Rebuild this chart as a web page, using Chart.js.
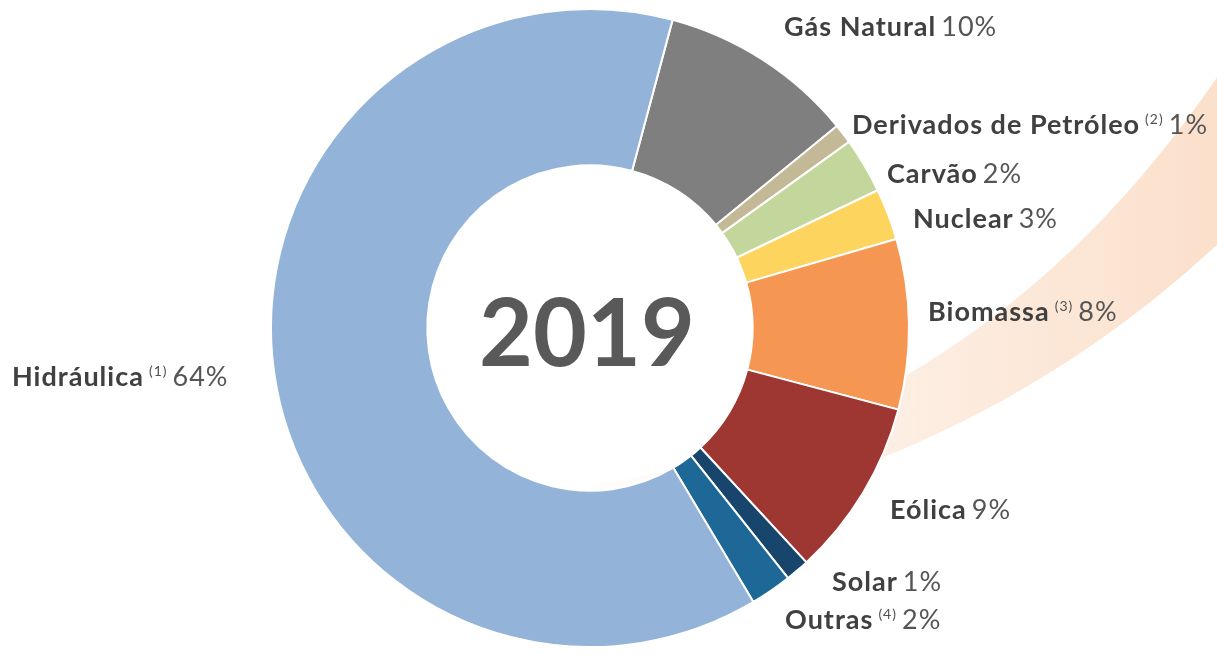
<!DOCTYPE html>
<html lang="pt">
<head>
<meta charset="utf-8">
<title>Matriz elétrica 2019</title>
<script src="https://cdn.jsdelivr.net/npm/chart.js@4/dist/chart.umd.min.js"></script>
<style>
  html, body { margin: 0; padding: 0; background: #fff; }
  #wrap { width: 1217px; height: 655px; position: relative; }
</style>
</head>
<body>
<div id="wrap"><canvas id="matrixChart"></canvas></div>
<script>
// Data (shares in %, clockwise from the top)
const categories  = ['Gás Natural', 'Derivados de Petróleo', 'Carvão', 'Nuclear', 'Biomassa', 'Eólica', 'Solar', 'Outras', 'Hidráulica'];
const shares      = [9.9, 1.0, 2.8, 2.6, 8.6, 9.0, 1.2, 2.1, 62.6];
const shareLabels = ['10%', '1%', '2%', '3%', '8%', '9%', '1%', '2%', '64%'];
const footnotes   = ['', '(2)', '', '', '(3)', '', '', '(4)', '(1)'];
const centerTitle = '2019';

// Styling
const sliceColors = ['#7f7f7f', '#c4b996', '#c3d69b', '#fdd55e', '#f59652', '#9e3632', '#17456b', '#1d6896', '#93b3d9'];
// label anchors: [left x, baseline y]
const labelPos = [
  [784, 36], [852, 134], [887, 183], [913, 228], [928, 321],
  [890, 519], [832, 591], [785, 629], [12, 386]
];
const FONT = 'Lato, "Open Sans", sans-serif';

// decorative peach crescent behind the ring
const backgroundArc = {
  id: 'backgroundArc',
  beforeDatasetsDraw(chart) {
    const c = chart.ctx;
    const grad = c.createLinearGradient(590, 0, 1217, 0);
    grad.addColorStop(0, 'rgba(251, 224, 203, 0.05)');
    grad.addColorStop(0.5, 'rgba(251, 224, 203, 0.55)');
    grad.addColorStop(1, 'rgba(251, 224, 203, 1)');
    c.save();
    c.fillStyle = grad;
    c.beginPath();
    c.moveTo(1245, 35);
    c.quadraticCurveTo(1000, 424, 590, 485);
    c.lineTo(590, 530);
    c.arc(477, -550, 1086, 84 * Math.PI / 180, 40 * Math.PI / 180, true);
    c.closePath();
    c.fill();
    c.restore();
  }
};

// center year + outside labels
const textLayer = {
  id: 'textLayer',
  afterDraw(chart) {
    const c = chart.ctx;
    const arc = chart.getDatasetMeta(0).data[0];
    c.save();
    c.textAlign = 'center';
    c.textBaseline = 'middle';
    c.fillStyle = '#595959';
    c.font = `bold 93px ${FONT}`;
    c.fillText(centerTitle, arc.x - 3, arc.y + 8);

    c.textAlign = 'left';
    c.textBaseline = 'alphabetic';
    c.letterSpacing = '1px';
    categories.forEach((name, i) => {
      const [x, y] = labelPos[i];
      let cx = x;
      c.font = `bold 27px ${FONT}`;
      c.fillStyle = '#404040';
      c.fillText(name, cx, y);
      cx += c.measureText(name).width + 5;
      if (footnotes[i]) {
        c.font = `14px ${FONT}`;
        c.fillStyle = '#505050';
        c.fillText(footnotes[i], cx, y - 10);
        cx += c.measureText(footnotes[i]).width + 5;
      }
      c.font = `27px ${FONT}`;
      c.fillStyle = '#555555';
      c.fillText(shareLabels[i], cx, y);
    });
    c.restore();
  }
};

const chart = new Chart(document.getElementById('matrixChart'), {
  type: 'doughnut',
  data: {
    labels: categories,
    datasets: [{
      data: shares,
      backgroundColor: sliceColors,
      borderColor: '#ffffff',
      borderWidth: 2
    }]
  },
  options: {
    responsive: true,
    maintainAspectRatio: false,
    animation: false,
    rotation: 15,
    cutout: '51%',
    layout: { padding: { top: 8, bottom: 7, left: 0, right: 37 } },
    plugins: {
      legend: { display: false },
      tooltip: { enabled: false }
    }
  },
  plugins: [backgroundArc, textLayer]
});
</script>
</body>
</html>
